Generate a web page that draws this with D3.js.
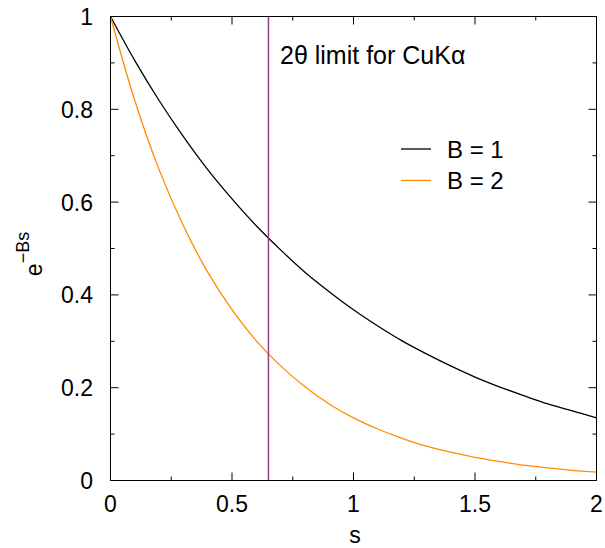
<!DOCTYPE html>
<html>
<head>
<meta charset="utf-8">
<script src="https://cdn.jsdelivr.net/npm/d3@7"></script>
<style>
  body { margin: 0; background: #fff; }
  svg { display: block; font-family: "Liberation Sans", Arial, sans-serif; }
</style>
</head>
<body>
<div id="chart"></div>
<script>
// Configuration
const width = 605;
const height = 548;
const marginTop = 16.5;
const marginRight = 8.5;
const marginBottom = 67.5;
const marginLeft = 110.5;

// Data
const sValues = [0, 0.1, 0.2, 0.3, 0.4, 0.5, 0.6, 0.7, 0.8, 0.9, 1.0,
                 1.1, 1.2, 1.3, 1.4, 1.5, 1.6, 1.7, 1.8, 1.9, 2.0];
const b1Values = [1, 0.905, 0.819, 0.741, 0.670, 0.607, 0.549, 0.497, 0.449, 0.407, 0.368,
                  0.333, 0.301, 0.273, 0.247, 0.223, 0.202, 0.183, 0.165, 0.150, 0.135];
const b2Values = [1, 0.819, 0.670, 0.549, 0.449, 0.368, 0.301, 0.247, 0.202, 0.165, 0.135,
                  0.111, 0.091, 0.074, 0.061, 0.050, 0.041, 0.033, 0.027, 0.022, 0.018];
const seriesNames = ["B = 1", "B = 2"];
const seriesColors = ["#000000", "#ff8c00"];
const limitS = 0.65;
const limitLabel = "2\u03b8 limit for CuK\u03b1";
const xTicks = [0, 0.5, 1, 1.5, 2];
const xMinorTicks = [0.25, 0.75, 1.25, 1.75];
const yTicks = [0, 0.2, 0.4, 0.6, 0.8, 1];
const yMinorTicks = [0.1, 0.3, 0.5, 0.7, 0.9];

const series = [b1Values, b2Values].map((vals, i) => ({
  name: seriesNames[i],
  color: seriesColors[i],
  points: sValues.map((s, j) => [s, vals[j]])
}));

// Scales
const x = d3.scaleLinear([0, 2], [marginLeft, width - marginRight]);
const y = d3.scaleLinear([0, 1], [height - marginBottom, marginTop]);

const svg = d3.select("#chart").append("svg")
  .attr("width", width)
  .attr("height", height)
  .attr("viewBox", [0, 0, width, height]);

const fontSize = 23;

// Tick marks (inward on all four sides)
const ticks = svg.append("g").attr("stroke", "#000").attr("stroke-width", 1);
function xTick(v, len) {
  ticks.append("line").attr("x1", x(v)).attr("x2", x(v))
    .attr("y1", y(0)).attr("y2", y(0) - len);
  ticks.append("line").attr("x1", x(v)).attr("x2", x(v))
    .attr("y1", y(1)).attr("y2", y(1) + len);
}
function yTick(v, len) {
  ticks.append("line").attr("y1", y(v)).attr("y2", y(v))
    .attr("x1", x(0)).attr("x2", x(0) + len);
  ticks.append("line").attr("y1", y(v)).attr("y2", y(v))
    .attr("x1", x(2)).attr("x2", x(2) - len);
}
xTicks.forEach(v => xTick(v, 8));
xMinorTicks.forEach(v => xTick(v, 4));
yTicks.forEach(v => yTick(v, 8));
yMinorTicks.forEach(v => yTick(v, 4));

// Tick labels
svg.append("g")
  .attr("font-size", fontSize)
  .attr("text-anchor", "middle")
  .selectAll("text")
  .data(xTicks)
  .join("text")
  .attr("x", d => x(d))
  .attr("y", y(0) + 31)
  .text(d => String(d));

svg.append("g")
  .attr("font-size", fontSize)
  .attr("text-anchor", "end")
  .selectAll("text")
  .data(yTicks)
  .join("text")
  .attr("x", 93)
  .attr("y", d => y(d) + 8.5)
  .text(d => String(d));

// Curves
const line = d3.line()
  .x(d => x(d[0]))
  .y(d => y(d[1]))
  .curve(d3.curveCatmullRom);

svg.append("g")
  .attr("fill", "none")
  .attr("stroke-width", 1.3)
  .selectAll("path")
  .data(series)
  .join("path")
  .attr("stroke", d => d.color)
  .attr("d", d => line(d.points));

// Limit line
svg.append("line")
  .attr("x1", x(limitS)).attr("x2", x(limitS))
  .attr("y1", y(0)).attr("y2", y(1))
  .attr("stroke", "#8f3f8c")
  .attr("stroke-width", 1.5);

svg.append("text")
  .attr("x", 280)
  .attr("y", 64)
  .attr("font-size", 25)
  .text(limitLabel);

// Frame
svg.append("rect")
  .attr("x", x(0)).attr("y", y(1))
  .attr("width", x(2) - x(0)).attr("height", y(0) - y(1))
  .attr("fill", "none")
  .attr("stroke", "#000")
  .attr("stroke-width", 1);

// Legend
const legend = svg.append("g")
  .selectAll("g")
  .data(series)
  .join("g")
  .attr("transform", (d, i) => `translate(401,${149 + i * 31.5})`);

legend.append("line")
  .attr("x1", 0).attr("x2", 30)
  .attr("stroke", d => d.color)
  .attr("stroke-width", 1.3);

legend.append("text")
  .attr("x", 46)
  .attr("y", 8.6)
  .attr("font-size", 24)
  .text(d => d.name);

// Axis labels
svg.append("text")
  .attr("x", 355)
  .attr("y", 543)
  .attr("font-size", fontSize)
  .attr("text-anchor", "middle")
  .text("s");

const ylab = svg.append("text")
  .attr("transform", "translate(42,254) rotate(-90)")
  .attr("font-size", fontSize)
  .attr("text-anchor", "middle");
ylab.append("tspan").text("e");
ylab.append("tspan")
  .attr("dy", -13)
  .attr("font-size", 18)
  .text("\u2212Bs");
</script>
</body>
</html>
